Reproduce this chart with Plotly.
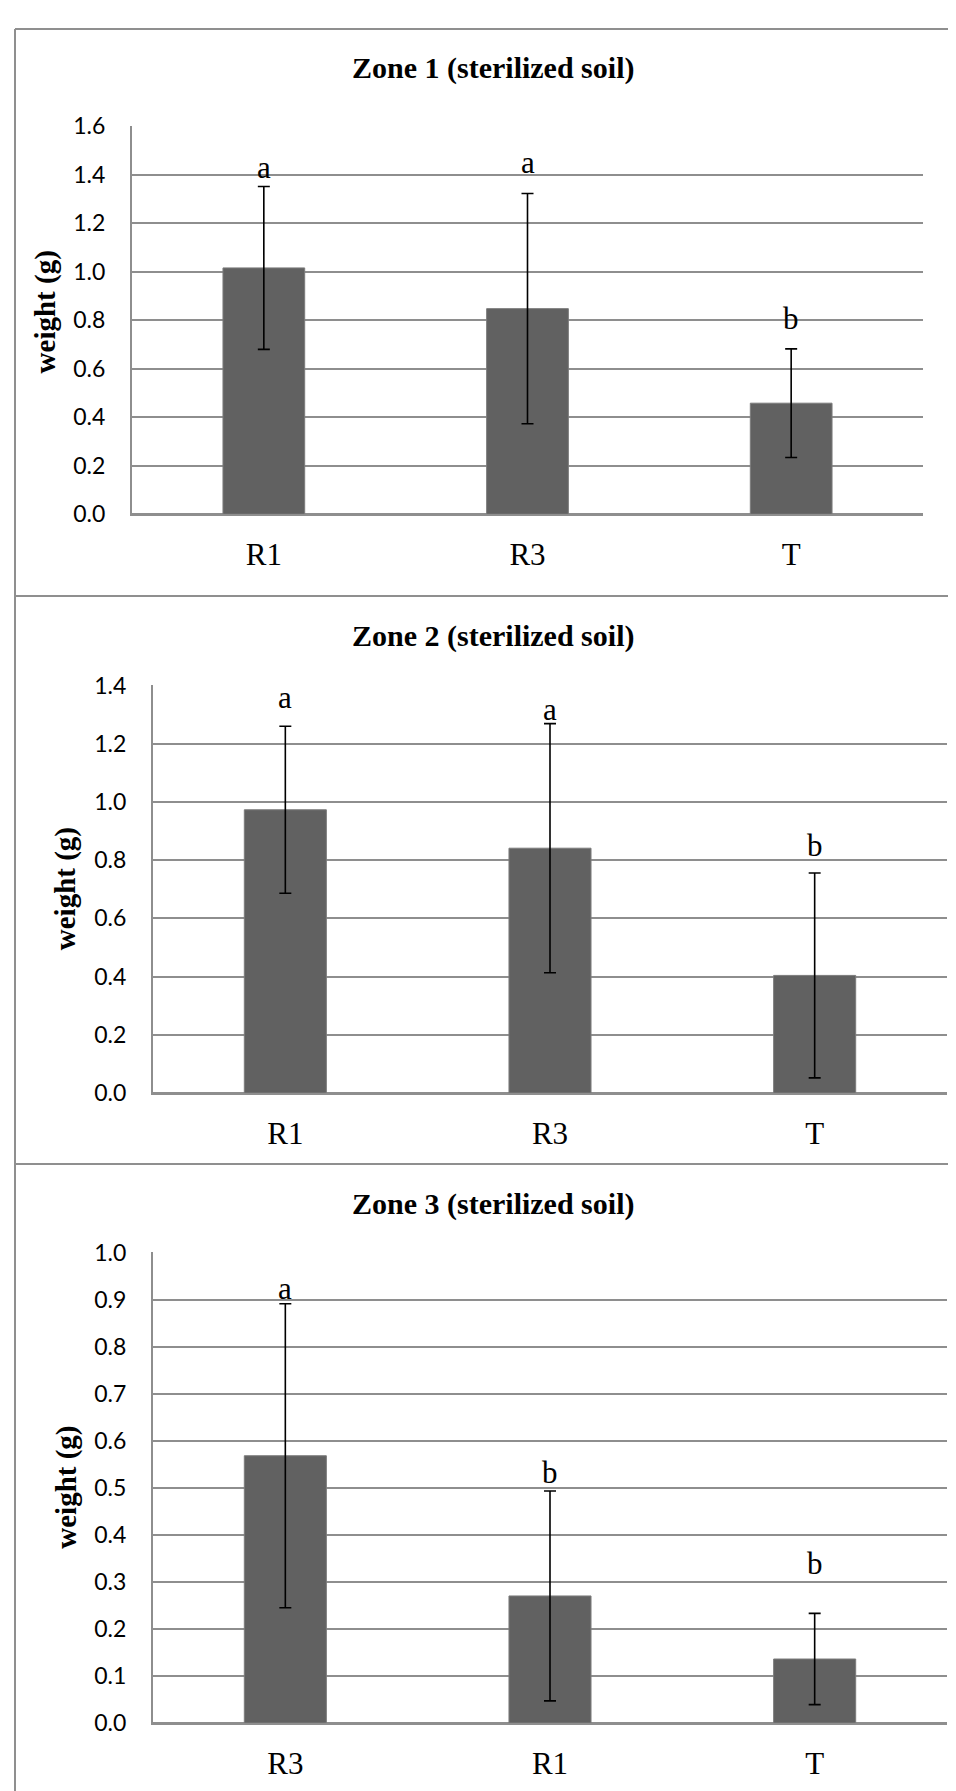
import plotly.graph_objects as go

# ---------------- data ----------------
titles = ["Zone 1 (sterilized soil)", "Zone 2 (sterilized soil)", "Zone 3 (sterilized soil)"]
y_title = "weight (g)"

cats_z1 = ["R1", "R3", "T"]
mean_z1 = [1.016, 0.848, 0.458]
err_z1 = [0.336, 0.475, 0.224]
lett_z1 = ["a", "a", "b"]
lett_y_z1 = [1.432, 1.452, 0.808]
ticks_z1 = [0.0, 0.2, 0.4, 0.6, 0.8, 1.0, 1.2, 1.4, 1.6]

cats_z2 = ["R1", "R3", "T"]
mean_z2 = [0.973, 0.841, 0.404]
err_z2 = [0.287, 0.428, 0.352]
lett_z2 = ["a", "a", "b"]
lett_y_z2 = [1.358, 1.319, 0.850]
ticks_z2 = [0.0, 0.2, 0.4, 0.6, 0.8, 1.0, 1.2, 1.4]

cats_z3 = ["R3", "R1", "T"]
mean_z3 = [0.568, 0.270, 0.136]
err_z3 = [0.323, 0.223, 0.097]
lett_z3 = ["a", "b", "b"]
lett_y_z3 = [0.923, 0.533, 0.338]
ticks_z3 = [0.0, 0.1, 0.2, 0.3, 0.4, 0.5, 0.6, 0.7, 0.8, 0.9, 1.0]

# ---------------- layout (pixels) ----------------
W, H = 956, 1791
def px(x): return x / W
def py(y): return 1 - y / H

panels = [
    dict(cats=cats_z1, mean=mean_z1, err=err_z1, lett=lett_z1, lett_y=lett_y_z1, ticks=ticks_z1,
         x0=124, x1=915, ytop=105, ybot=499, title_y=46, ylab_x=37, ylab_y=294),
    dict(cats=cats_z2, mean=mean_z2, err=err_z2, lett=lett_z2, lett_y=lett_y_z2, ticks=ticks_z2,
         x0=145, x1=939, ytop=673, ybot=1087, title_y=623, ylab_x=57, ylab_y=880),
    dict(cats=cats_z3, mean=mean_z3, err=err_z3, lett=lett_z3, lett_y=lett_y_z3, ticks=ticks_z3,
         x0=145, x1=939, ytop=1249, ybot=1727, title_y=1200, ylab_x=59, ylab_y=1488),
]

GRID = "#8e8e8e"
BAR = "#616161"
SERIF = "Liberation Serif, Times New Roman, serif"
SANS = "Lato, Carlito, Calibri, sans-serif"

fig = go.Figure()
annotations = []
layout_axes = {}

for i, p in enumerate(panels):
    n = i + 1
    xa = "x" if n == 1 else f"x{n}"
    ya = "y" if n == 1 else f"y{n}"
    fig.add_trace(go.Bar(
        x=p["cats"], y=p["mean"], xaxis=xa, yaxis=ya,
        width=0.31,
        marker=dict(color=BAR, line=dict(color="#7c7c7c", width=1)),
        error_y=dict(type="data", array=p["err"], visible=True,
                     color="black", thickness=1.6, width=6),
        showlegend=False, hoverinfo="skip",
    ))
    # significance letters
    for c, l, ly in zip(p["cats"], p["lett"], p["lett_y"]):
        annotations.append(dict(x=c, y=ly, xref=xa, yref=ya, text=l, showarrow=False,
                                font=dict(family=SERIF, size=31, color="black"),
                                xanchor="center", yanchor="middle"))
    # panel title
    annotations.append(dict(x=px(485), y=py(p["title_y"]), xref="paper", yref="paper",
                            text=f"<b>{titles[i]}</b>", showarrow=False,
                            font=dict(family=SERIF, size=30, color="black"),
                            xanchor="center", yanchor="middle"))
    # y axis title
    annotations.append(dict(x=px(p["ylab_x"]), y=py(p["ylab_y"]), xref="paper", yref="paper",
                            text=f"<b>{y_title}</b>", showarrow=False, textangle=-90,
                            font=dict(family=SERIF, size=29, color="black"),
                            xanchor="center", yanchor="middle"))

    xkey = "xaxis" if n == 1 else f"xaxis{n}"
    ykey = "yaxis" if n == 1 else f"yaxis{n}"
    layout_axes[xkey] = dict(
        domain=[px(p["x0"]), px(p["x1"])], anchor=ya, type="category",
        categoryorder="array", categoryarray=p["cats"],
        showgrid=False, showline=True, linecolor=GRID, linewidth=2,
        ticks="", ticklabelstandoff=12,
        tickfont=dict(family=SERIF, size=31, color="black"),
        fixedrange=True,
    )
    layout_axes[ykey] = dict(
        domain=[py(p["ybot"]), py(p["ytop"])], anchor=xa,
        range=[p["ticks"][0], p["ticks"][-1]],
        tickmode="array", tickvals=p["ticks"],
        ticktext=[f"{t:.1f}" for t in p["ticks"]],
        showgrid=True, gridcolor=GRID, gridwidth=2,
        zeroline=True, zerolinecolor=GRID, zerolinewidth=2,
        showline=True, linecolor=GRID, linewidth=2,
        ticks="", ticklabelstandoff=20,
        tickfont=dict(family=SANS, size=23, color="black"),
        fixedrange=True,
    )

# frame lines
BORDER = "#8f8f8f"
shapes = [
    dict(type="line", xref="paper", yref="paper", x0=px(7), x1=px(7), y0=py(6), y1=py(H + 5),
         line=dict(color=BORDER, width=2)),
]
for yy in [6, 582, 1159]:
    shapes.append(dict(type="line", xref="paper", yref="paper", x0=px(7), x1=px(W + 5),
                       y0=py(yy), y1=py(yy), line=dict(color=BORDER, width=2)))

fig.update_layout(
    width=W, height=H,
    margin=dict(l=0, r=0, t=0, b=0),
    paper_bgcolor="white", plot_bgcolor="white",
    annotations=annotations, shapes=shapes,
    bargap=0.69,
    **layout_axes,
)

fig.write_html("out.html")
